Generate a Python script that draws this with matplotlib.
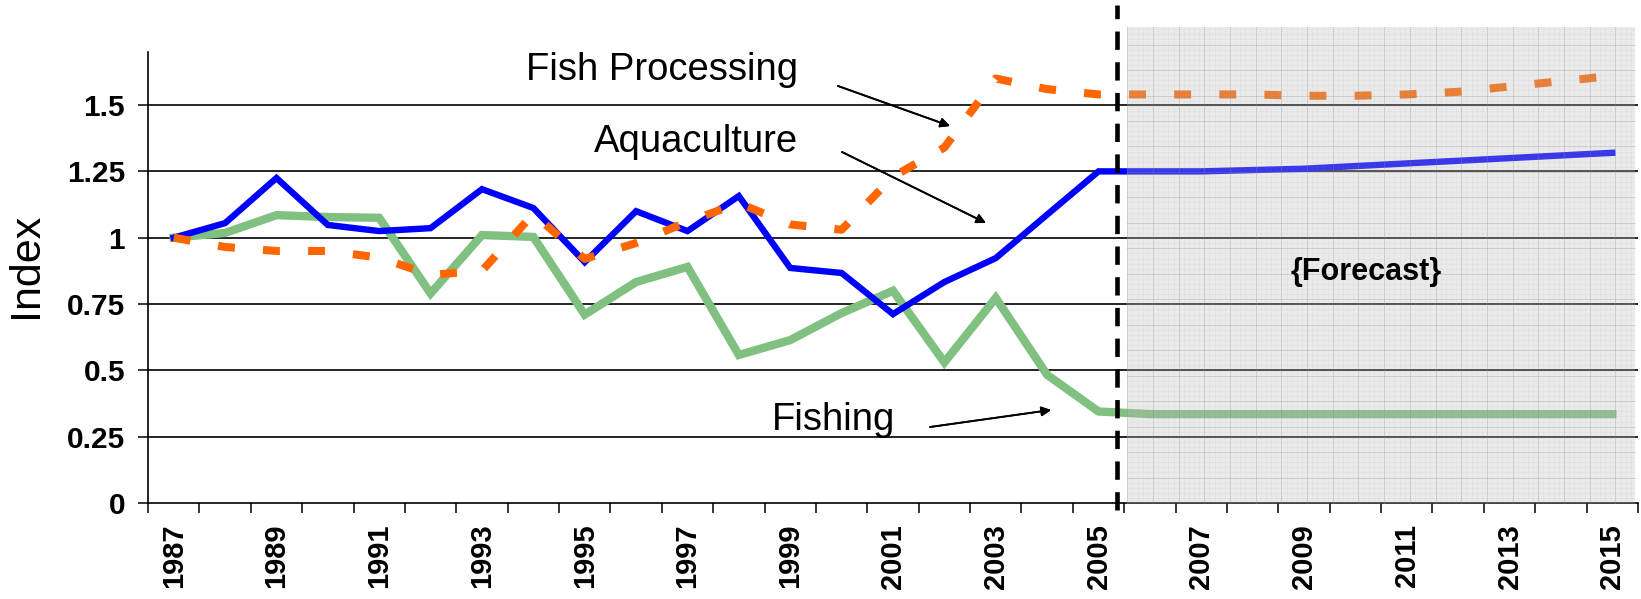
import numpy as np
import matplotlib.pyplot as plt
from matplotlib.patches import Rectangle

plt.rcParams['font.family'] = ['Liberation Sans', 'DejaVu Sans']

# data (index, 1987 = 1)
years = list(range(1987, 2016))
aquaculture = [1.00, 1.055, 1.225, 1.048, 1.025, 1.036, 1.183, 1.112, 0.908, 1.10,
               1.025, 1.157, 0.886, 0.867, 0.712, 0.833, 0.923, 1.087, 1.25,
               1.25, 1.25, 1.255, 1.26, 1.27, 1.28, 1.29, 1.30, 1.31, 1.32]
fish_processing = [1.00, 0.965, 0.95, 0.95, 0.925, 0.86, 0.875, 1.09, 0.92, 0.98,
                   1.06, 1.13, 1.05, 1.03, 1.23, 1.34, 1.60, 1.56, 1.54,
                   1.54, 1.54, 1.54, 1.535, 1.535, 1.54, 1.55, 1.57, 1.59, 1.61]
fishing = [1.00, 1.018, 1.085, 1.078, 1.075, 0.79, 1.01, 1.003, 0.71, 0.833,
           0.89, 0.558, 0.614, 0.716, 0.80, 0.53, 0.773, 0.483, 0.345,
           0.335, 0.335, 0.335, 0.335, 0.335, 0.335, 0.335, 0.335, 0.335, 0.335]
y_ticks = [0, 0.25, 0.5, 0.75, 1, 1.25, 1.5]
y_labels = ['0', '0.25', '0.5', '0.75', '1', '1.25', '1.5']
label_years = list(range(1987, 2016, 2))

forecast_line = 2005.35          # dashed divider
shade_x = (2005.56, 2015.44)     # grey forecast box
shade_top = 1.794

W, H = 1641, 599
fig = plt.figure(figsize=(W / 100, H / 100), dpi=100)
ax = fig.add_axes([148 / W, 1 - 503 / H, 1490 / W, 451 / H])


def figxy(px, py):
    # pixel position (from top left) -> figure fraction
    return (px / W, 1 - py / H)


# black horizontal gridlines
for y in y_ticks[1:]:
    ax.axhline(y, color='black', lw=1.2, zorder=1)

ax.plot(years, fishing, color='#80C080', lw=6.0, solid_joinstyle='miter', zorder=2)
ax.plot(years, aquaculture, color='#0000FF', lw=4.6, solid_joinstyle='miter', zorder=3)
ax.plot(years, fish_processing, color='#FF6600', lw=5.8, ls=(0, (2.1, 3.5)),
        dash_capstyle='butt', zorder=4)

# forecast box: translucent grey "graph paper" laid over the lines
ax.add_patch(Rectangle((shade_x[0], 0), shade_x[1] - shade_x[0], shade_top,
                       facecolor='#BCBCBC', edgecolor='none', alpha=0.3,
                       zorder=5, clip_on=False))
xs = np.arange(shade_x[0], shade_x[1] + 1e-6, 0.1)
for i, x in enumerate(xs):
    a = 0.3 if i % 5 == 0 else 0.06
    ax.plot([x, x], [0, shade_top], color='#8c8c8c', lw=0.7, alpha=a,
            zorder=5, clip_on=False)
ys = np.arange(0, shade_top + 1e-6, 0.0192)
for i, y in enumerate(ys):
    a = 0.3 if i % 5 == 0 else 0.06
    ax.plot(shade_x, [y, y], color='#8c8c8c', lw=0.7, alpha=a,
            zorder=5, clip_on=False)

# dashed divider between history and forecast
ax.plot([forecast_line, forecast_line], [-0.026, 1.877], color='black', lw=3.3,
        ls=(0, (4.0, 2.7)), zorder=6, clip_on=False)

ax.set_xlim(1986.5, 2015.5)
ax.set_ylim(0, 1.70)

ax.set_xticks(np.arange(1986.5, 2016, 1))
ax.set_xticklabels([])
ax.set_xticks(label_years, minor=True)
ax.set_xticklabels([str(y) for y in label_years], minor=True, rotation=90,
                   fontsize=21, fontweight='bold')
ax.tick_params(axis='x', which='major', length=7.5, width=1.1, direction='out')
ax.tick_params(axis='x', which='minor', length=0, pad=15)

ax.set_yticks(y_ticks)
ax.set_yticklabels(y_labels, fontsize=21.5, fontweight='bold')
ax.tick_params(axis='y', length=7.5, width=1.1, direction='out', pad=9)

for s in ['top', 'right']:
    ax.spines[s].set_visible(False)
for s in ['left', 'bottom']:
    ax.spines[s].set_linewidth(1.2)

fig.text(*figxy(26, 265), 'Index', rotation=90, fontsize=31,
         ha='center', va='center')

# labels with arrows
fig.text(*figxy(526, 80), 'Fish Processing', fontsize=27.5, ha='left', va='baseline')
fig.text(*figxy(594, 152), 'Aquaculture', fontsize=27.5, ha='left', va='baseline')
fig.text(*figxy(772, 430), 'Fishing', fontsize=27.5, ha='left', va='baseline')
arrows = [((838, 86), (950, 126)), ((842, 152), (986, 223)), ((930, 427), (1051, 410))]
for start, end in arrows:
    fig.add_artist(plt.annotate('', xy=figxy(*end), xytext=figxy(*start),
                                xycoords='figure fraction', textcoords='figure fraction',
                                arrowprops=dict(arrowstyle='-|>', lw=1.3, color='black',
                                                mutation_scale=14, shrinkA=0, shrinkB=0)))

fig.text(*figxy(1366, 272), '{Forecast}', fontsize=22, fontweight='bold',
         ha='center', va='center', zorder=7)

fig.savefig('out.png', dpi=100)
